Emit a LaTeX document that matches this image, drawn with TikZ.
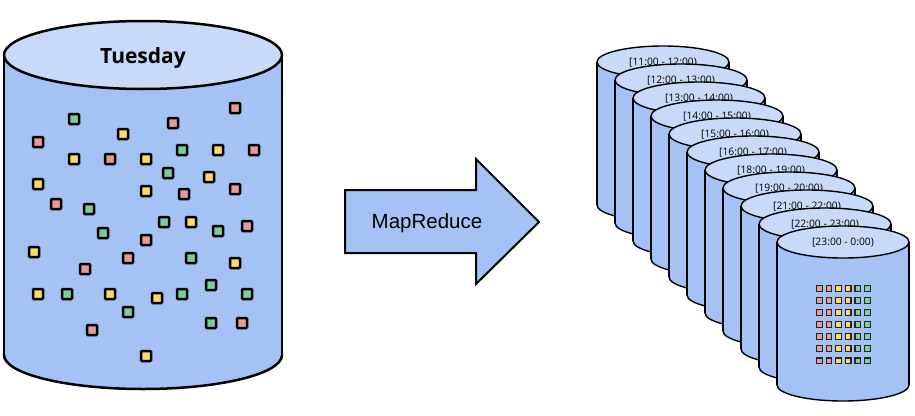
\documentclass[tikz,border=0pt]{standalone}
\usepackage{fontspec}
\newfontfamily\osans{Open Sans}
\newfontfamily\lsans{Liberation Sans}
\definecolor{bodyblue}{HTML}{A4C2F4}
\definecolor{topblue}{HTML}{C9DAF8}
\definecolor{sqpink}{HTML}{EA9999}
\definecolor{sqyellow}{HTML}{FFD966}
\definecolor{sqgreen}{HTML}{7FCB9F}
\newcommand{\mycyl}[6]{% cx, ty, rx, ry, by, lw
  \filldraw[fill=bodyblue, draw=black, line width=#6] (#1,#5) ellipse [x radius=#3pt, y radius=#4pt];
  \fill[bodyblue] (#1-#3,#2) rectangle (#1+#3,#5);
  \draw[line width=#6] (#1-#3,#2) -- (#1-#3,#5) (#1+#3,#2) -- (#1+#3,#5);
  \filldraw[fill=topblue, draw=black, line width=#6] (#1,#2) ellipse [x radius=#3pt, y radius=#4pt];
}
\tikzset{
  bigsq/.style={draw=black, line width=2.5pt, rounded corners=0.8pt},
  smallsq/.style={draw=black!85, line width=1.2pt},
  cyllabel/.style={font=\osans\fontsize{10.3}{12}\selectfont, text=black, inner sep=0pt},
}
\begin{document}
\begin{tikzpicture}[x=1pt,y=-1pt]
\useasboundingbox (0,0) rectangle (915,415);
\fill[white] (0,0) rectangle (915,415);
% left cylinder
\mycyl{143}{55}{139}{34}{355}{2.5pt}
\node (tue) [font=\osans\bfseries\fontsize{21}{24}\selectfont, inner sep=0pt] at (143,58) {Tuesday};
\foreach \x/\y/\c in {235/108/sqpink, 74/119/sqgreen, 173/123/sqpink, 123/134/sqyellow,
  38/142/sqpink, 182/150/sqgreen, 218/150/sqyellow, 254/150/sqpink, 74/159/sqyellow,
  110/159/sqpink, 146/159/sqyellow, 168/173/sqgreen, 209/177/sqyellow, 38/184/sqyellow,
  146/191/sqyellow, 184/194/sqpink, 235/189/sqpink, 56/204/sqpink, 89/209/sqgreen,
  164/222/sqgreen, 191/222/sqyellow, 218/231/sqgreen, 247/226/sqpink, 103/233/sqgreen,
  146/240/sqpink, 34/252/sqyellow, 128/258/sqpink, 191/258/sqgreen, 235/263/sqyellow,
  85/269/sqpink, 38/294/sqyellow, 67/294/sqgreen, 110/294/sqyellow, 157/298/sqyellow,
  182/294/sqgreen, 211/285/sqgreen, 247/294/sqgreen, 128/312/sqgreen, 92/330/sqpink,
  211/323/sqgreen, 242/323/sqpink, 146/356/sqyellow}
  \filldraw[bigsq, fill=\c] (\x-5,\y-5) rectangle (\x+5,\y+5);
% arrow
\filldraw[fill=bodyblue, draw=black, line width=2pt, line join=miter]
  (345,190) -- (476,190) -- (476,159) -- (539,222) -- (476,284) -- (476,253) -- (345,253) -- cycle;
\node (mr) [font=\lsans\fontsize{20.5}{24}\selectfont, inner sep=0pt] at (427,223) {MapReduce};
% stacked cylinders
\foreach \i/\lab in {0/{[11:00 - 12:00)}, 1/{[12:00 - 13:00)}, 2/{[13:00 - 14:00)},
  3/{[14:00 - 15:00)}, 4/{[15:00 - 16:00)}, 5/{[16:00 - 17:00)}, 6/{[18:00 - 19:00)},
  7/{[19:00 - 20:00)}, 8/{[21:00 - 22:00)}, 9/{[22:00 - 23:00)}, 10/{[23:00 - 0:00)}}{
  \pgfmathsetmacro\cx{663+18*\i}
  \pgfmathsetmacro\ty{62+18*\i}
  \pgfmathsetmacro\by{\ty+143}
  \mycyl{\cx}{\ty}{66}{16}{\by}{1.4pt}
  \node[cyllabel] at (\cx,\ty+1) {\lab};
}
% grid of small squares
\foreach \r in {0,...,6}{
  \foreach \c/\col in {0/sqpink,1/sqpink,2/sqyellow,3/sqyellow,4/sqgreen,5/sqgreen}{
    \pgfmathsetmacro\gx{819.3+9.6*\c}
    \pgfmathsetmacro\gy{288.3+12.07*\r}
    \filldraw[smallsq, fill=\col] (\gx-2.8,\gy-2.8) rectangle (\gx+2.8,\gy+2.8);
  }
}
\end{tikzpicture}
\end{document}
